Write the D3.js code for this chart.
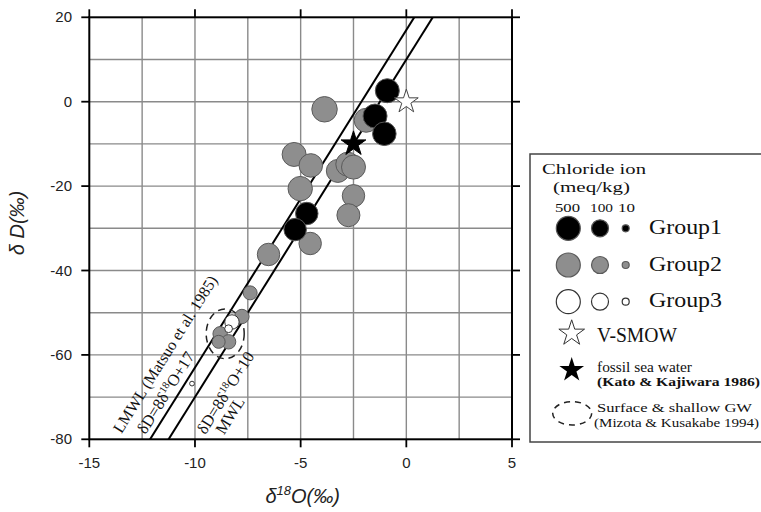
<!DOCTYPE html>
<html><head><meta charset="utf-8">
<script src="https://cdn.jsdelivr.net/npm/d3@7"></script>
<style>body{margin:0;background:#fff}svg{display:block}</style>
</head><body><svg id="c" width="761" height="512"></svg>
<script>
// ---- data ----
const xTicks = [-15, -10, -5, 0, 5];
const yTicks = [20, 0, -20, -40, -60, -80];
const xGrid = [-12.5, -10, -7.5, -5, -2.5, 0, 2.5];
const yGrid = [10, 0, -10, -20, -30, -40, -50, -60, -70];
// [d18O, dD, chloride meq/kg]
const group2 = [
  [-3.87, -1.8, 700], [-1.9, -4.4, 500], [-5.31, -12.5, 500], [-4.52, -15.1, 450],
  [-3.24, -16.4, 400], [-2.77, -14.8, 500], [-2.5, -15.5, 500], [-5.02, -20.6, 550],
  [-2.5, -22.3, 350], [-2.74, -26.9, 400], [-4.55, -33.6, 350], [-6.52, -36.2, 350],
  [-7.39, -45.3, 50], [-7.78, -50.9, 55], [-8.81, -55.0, 55], [-8.41, -56.9, 55], [-8.88, -56.9, 40]
];
const group1 = [
  [-0.9, 2.6, 500], [-1.48, -3.4, 500], [-1.04, -7.6, 450], [-4.71, -26.5, 350], [-5.26, -30.3, 350]
];
const group3 = [
  [-8.25, -52.2, 55], [-8.41, -53.8, 12], [-10.14, -66.8, 6]
];
const vsmow = [0, 0];
const fossil = [-2.5, -10];
const shallowGW = {cx: -8.57, cy: -55, rx: 0.9, ry: 5.9};
const lines = [
  {name: "LMWL", slope: 8, icpt: 17},
  {name: "MWL", slope: 8, icpt: 10}
];
const legendSizes = [500, 100, 10];
const groupNames = ["Group1", "Group2", "Group3"];
const groupFill = ["#000", "#8e8e8e", "#fff"];
const groupStroke = ["#555", "#5a5a5a", "#333"];

// ---- scales ----
const svg = d3.select("#c");
const x = d3.scaleLinear().domain([-15, 5]).range([89.3, 512]);
const y = d3.scaleLinear().domain([-80, 20]).range([439.3, 17.3]);
const r = d3.scaleLog().domain([10, 500]).range([3.5, 12]);
const L = x(-15), R = x(5), T = y(20), B = y(-80);

// grid
const g = svg.append("g");
g.selectAll(".gx").data(xGrid).join("line")
  .attr("x1", d => x(d)).attr("x2", d => x(d)).attr("y1", T).attr("y2", B)
  .attr("stroke", "#8a8a8a").attr("stroke-width", 1.4);
g.selectAll(".gy").data(yGrid).join("line")
  .attr("y1", d => y(d)).attr("y2", d => y(d)).attr("x1", L).attr("x2", R)
  .attr("stroke", "#8a8a8a").attr("stroke-width", 1.4);

// clip
svg.append("clipPath").attr("id", "clip").append("rect")
  .attr("x", L).attr("y", T).attr("width", R - L).attr("height", B - T);

// meteoric water lines
const plot = svg.append("g").attr("clip-path", "url(#clip)");
plot.selectAll(".ml").data(lines).join("line")
  .attr("x1", d => x((-90 - d.icpt) / d.slope)).attr("y1", y(-90))
  .attr("x2", d => x((30 - d.icpt) / d.slope)).attr("y2", y(30))
  .attr("stroke", "#000").attr("stroke-width", 2);

// shallow GW ellipse
plot.append("ellipse")
  .attr("cx", x(shallowGW.cx)).attr("cy", y(shallowGW.cy))
  .attr("rx", x(shallowGW.cx + shallowGW.rx) - x(shallowGW.cx))
  .attr("ry", y(shallowGW.cy) - y(shallowGW.cy + shallowGW.ry))
  .attr("fill", "none").attr("stroke", "#222").attr("stroke-width", 1.5)
  .attr("stroke-dasharray", "7,5");

// points
function drawPts(data, i) {
  plot.append("g").selectAll("circle").data(data).join("circle")
    .attr("cx", d => x(d[0])).attr("cy", d => y(d[1])).attr("r", d => r(d[2]))
    .attr("fill", groupFill[i]).attr("stroke", groupStroke[i]).attr("stroke-width", 1);
}
drawPts(group2, 1);
drawPts(group1, 0);
drawPts(group3, 2);

const starPath = R0 => d3.symbol(d3.symbolStar, R0 * R0 / 0.8908130915292852)();
plot.append("path").attr("d", starPath(13))
  .attr("transform", `translate(${x(fossil[0])},${y(fossil[1])})`)
  .attr("fill", "#000").attr("stroke", "#000");
plot.append("path").attr("d", starPath(12.5))
  .attr("transform", `translate(${x(vsmow[0])},${y(vsmow[1])})`)
  .attr("fill", "#fff").attr("stroke", "#444").attr("stroke-width", 1);

// line labels
const ang = Math.atan2(y(-80) - y(-72), x(1) - x(0)) * 180 / Math.PI;
const serif = "'Liberation Serif','Times New Roman',serif";
const labels = [
  {line: 0, yd: -63.9, dy: -27, fs: 16, parts: [["LMWL (Matsuo et al. 1985)"]]},
  {line: 0, yd: -70.4, dy: -6, fs: 16.5, parts: [["δD=8δ"], ["18", true], ["O+17"]]},
  {line: 1, yd: -66.0, dy: 29, fs: 16.5, parts: [["δD=8δ"], ["18", true], ["O+10"]]},
  {line: 1, yd: -69.4, dy: 45, fs: 16.5, parts: [["MWL"]]}
];
labels.forEach(lb => {
  const ln = lines[lb.line];
  const px = x((lb.yd - ln.icpt) / ln.slope), py = y(lb.yd);
  const t = svg.append("text")
    .attr("transform", `translate(${px},${py}) rotate(${-ang})`)
    .attr("y", lb.dy).attr("text-anchor", "middle")
    .attr("font-family", serif).attr("font-size", lb.fs).attr("fill", "#111");
  lb.parts.forEach((p, k) => {
    const s = t.append("tspan").text(p[0]);
    if (p[1]) s.attr("font-size", 10.5).attr("dy", -6);
    else if (k > 0) s.attr("dy", 6);
  });
});

// frame
svg.append("rect").attr("x", L).attr("y", T).attr("width", R - L).attr("height", B - T)
  .attr("fill", "none").attr("stroke", "#000").attr("stroke-width", 2);

// ticks
const tk = svg.append("g").attr("stroke", "#000").attr("stroke-width", 1.8);
xTicks.forEach(v => {
  tk.append("line").attr("x1", x(v)).attr("x2", x(v)).attr("y1", B).attr("y2", B + 8);
  tk.append("line").attr("x1", x(v)).attr("x2", x(v)).attr("y1", T).attr("y2", T - 8);
});
yTicks.forEach(v => {
  tk.append("line").attr("y1", y(v)).attr("y2", y(v)).attr("x1", L).attr("x2", L - 8);
  tk.append("line").attr("y1", y(v)).attr("y2", y(v)).attr("x1", R).attr("x2", R + 8);
});
const sans = "'Liberation Sans',Arial,Helvetica,sans-serif";
svg.append("g").selectAll("text").data(xTicks).join("text")
  .attr("x", d => x(d)).attr("y", 468).attr("text-anchor", "middle")
  .attr("font-family", sans).attr("font-size", 15).attr("fill", "#222").text(d => d);
svg.append("g").selectAll("text").data(yTicks).join("text")
  .attr("x", 72).attr("y", d => y(d) + 5).attr("text-anchor", "end")
  .attr("font-family", sans).attr("font-size", 15).attr("fill", "#222").text(d => d);

// axis titles
const xt = svg.append("text").attr("x", x(-5) + 2).attr("y", 503).attr("text-anchor", "middle")
  .attr("font-family", sans).attr("font-style", "italic").attr("font-size", 20).attr("fill", "#222");
xt.append("tspan").text("δ");
xt.append("tspan").text("18").attr("font-size", 13).attr("dy", -8);
xt.append("tspan").text("O(‰)").attr("dy", 8);
svg.append("text").attr("transform", `translate(24,223) rotate(-90)`)
  .attr("text-anchor", "middle").attr("font-family", sans).attr("font-style", "italic")
  .attr("font-size", 20).attr("fill", "#222").text("δ D(‰)");

// legend
const lg = svg.append("g");
lg.append("rect").attr("x", 530).attr("y", 154).attr("width", 240).attr("height", 288)
  .attr("fill", "#fff").attr("stroke", "#444").attr("stroke-width", 1.5);
const lt = (tx, ty, s, fs, w) => lg.append("text").attr("x", tx).attr("y", ty)
  .attr("font-family", serif).attr("font-size", fs).attr("fill", "#111")
  .attr("textLength", w).attr("lengthAdjust", "spacingAndGlyphs").text(s);
lt(542, 173.5, "Chloride ion", 15.5, 104);
lt(553, 192, "(meq/kg)", 15.5, 77);
const numX = [555, 590, 618], numW = [25, 23, 17];
legendSizes.forEach((s, j) => lt(numX[j], 211.5, String(s), 13, numW[j]));
const colX = [568.3, 600, 625.7];
const rowY = [228.3, 265, 301.7];
groupNames.forEach((nm, i) => {
  legendSizes.forEach((s, j) => {
    lg.append("circle").attr("cx", colX[j]).attr("cy", rowY[i]).attr("r", r(s))
      .attr("fill", groupFill[i]).attr("stroke", groupStroke[i]).attr("stroke-width", 1.2);
  });
  lt(649, rowY[i] + 5.5, nm, 21, 73);
});
lg.append("path").attr("d", starPath(13.5)).attr("transform", "translate(571.7,333.3)")
  .attr("fill", "#fff").attr("stroke", "#333").attr("stroke-width", 1);
lt(597, 342, "V-SMOW", 20, 80);
lg.append("path").attr("d", starPath(13)).attr("transform", "translate(571.7,370)")
  .attr("fill", "#000");
lt(597, 372, "fossil sea water", 14, 95);
lt(597, 385.5, "(Kato & Kajiwara 1986)", 12.5, 163).attr("font-weight", 600);
lg.append("ellipse").attr("cx", 572.2).attr("cy", 413.3).attr("rx", 19.5).attr("ry", 11.7)
  .attr("fill", "none").attr("stroke", "#222").attr("stroke-width", 1.5).attr("stroke-dasharray", "6,5");
lt(597, 411.5, "Surface & shallow GW", 13.5, 155);
lt(594, 427, "(Mizota & Kusakabe 1994)", 13.5, 165);
</script></body></html>
